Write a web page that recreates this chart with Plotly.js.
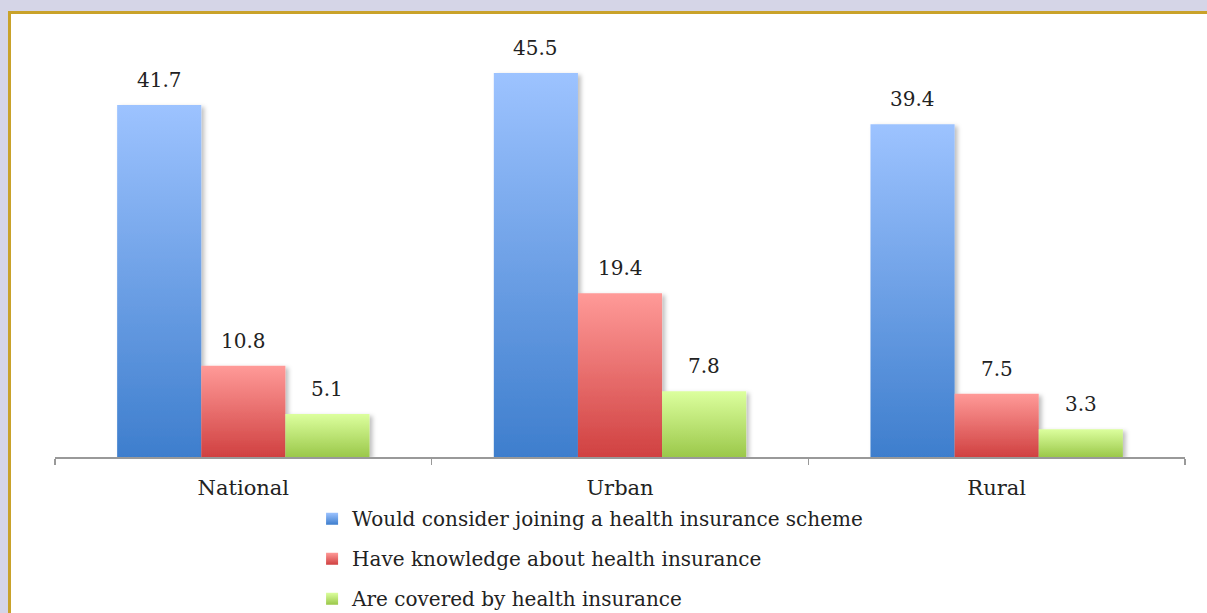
<!DOCTYPE html>
<html>
<head>
<meta charset="utf-8">
<script src="https://cdn.plot.ly/plotly-3.0.1.min.js"></script>
<style>
  html, body { margin: 0; padding: 0; width: 1207px; height: 613px; overflow: hidden; background: #d5d5e7; }
  #frame { position: absolute; left: 8px; top: 11px; width: 1220px; height: 640px; background: #ffffff;
           border-left: 3px solid #c9a22a; border-top: 3px solid #c9a22a; }
  #chart { position: absolute; left: 0; top: 0; width: 1207px; height: 613px; }
</style>
</head>
<body>
<div id="frame"></div>
<div id="chart"></div>
<script>
const categories = ["National", "Urban", "Rural"];
const seriesNames = [
  "Would consider joining a health insurance scheme",
  "Have knowledge about health insurance",
  "Are covered by health insurance"
];
const considerJoining = [41.7, 45.5, 39.4];
const haveKnowledge = [10.8, 19.4, 7.5];
const areCovered = [5.1, 7.8, 3.3];
const seriesValues = [considerJoining, haveKnowledge, areCovered];

const gradients = [
  ["#9dc3ff", "#3e7ecd"],
  ["#ff9a98", "#d04141"],
  ["#dcff9e", "#9bc84a"]
];
const FONT = "DejaVu Serif";
const bargap = 0.33;

const traces = seriesValues.map((vals, i) => ({
  type: "bar",
  name: seriesNames[i],
  x: categories,
  y: vals,
  legendgroup: "g" + i,
  marker: { color: gradients[i][1], line: { width: 0 } },
  hoverinfo: "skip"
}));

const barW = (1 - bargap) / seriesValues.length;
const annotations = [];
seriesValues.forEach((vals, i) => {
  vals.forEach((v, c) => {
    annotations.push({
      xref: "x", yref: "y",
      x: c + (i - (seriesValues.length - 1) / 2) * barW,
      y: v,
      text: v.toFixed(1),
      showarrow: false,
      yanchor: "bottom",
      yshift: 11,
      font: { family: FONT, size: 20, color: "#222" }
    });
  });
});

const layout = {
  width: 1207, height: 613,
  paper_bgcolor: "rgba(0,0,0,0)",
  plot_bgcolor: "rgba(0,0,0,0)",
  margin: { l: 55, r: 22, t: 18, b: 156, autoexpand: false },
  barmode: "group",
  bargap: bargap,
  bargroupgap: 0,
  font: { family: FONT, size: 20, color: "#222" },
  xaxis: {
    type: "category",
    showline: true, linecolor: "#999", linewidth: 1.5,
    ticks: "outside", tickson: "boundaries", ticklen: 6, tickcolor: "#999", tickwidth: 1.5,
    ticklabelstandoff: 11,
    tickfont: { family: FONT, size: 21, color: "#222" },
    showgrid: false, zeroline: false
  },
  yaxis: {
    range: [0, 52],
    visible: false, showgrid: false, zeroline: false
  },
  showlegend: true,
  legend: {
    orientation: "v",
    x: 0.2275, xanchor: "left",
    y: -0.096, yanchor: "top",
    traceorder: "grouped",
    tracegroupgap: 11,
    itemwidth: 30,
    font: { family: FONT, size: 20, color: "#222" },
    bgcolor: "rgba(0,0,0,0)"
  },
  annotations: annotations
};

Plotly.newPlot("chart", traces, layout, { displayModeBar: false, staticPlot: true }).then(gd => {
  const svg = gd.querySelector("svg.main-svg");
  const NS = "http://www.w3.org/2000/svg";
  let defs = svg.querySelector("defs");
  if (!defs) { defs = document.createElementNS(NS, "defs"); svg.insertBefore(defs, svg.firstChild); }
  gradients.forEach((g, i) => {
    const lg = document.createElementNS(NS, "linearGradient");
    lg.setAttribute("id", "barGrad" + i);
    lg.setAttribute("x1", "0"); lg.setAttribute("y1", "0");
    lg.setAttribute("x2", "0"); lg.setAttribute("y2", "1");
    [[0, g[0]], [1, g[1]]].forEach(([o, c]) => {
      const s = document.createElementNS(NS, "stop");
      s.setAttribute("offset", o); s.setAttribute("stop-color", c);
      lg.appendChild(s);
    });
    defs.appendChild(lg);
  });
  const f = document.createElementNS(NS, "filter");
  f.setAttribute("id", "barShadow");
  f.setAttribute("x", "-20%"); f.setAttribute("y", "-5%");
  f.setAttribute("width", "150%"); f.setAttribute("height", "115%");
  const ds = document.createElementNS(NS, "feDropShadow");
  ds.setAttribute("dx", "3"); ds.setAttribute("dy", "2");
  ds.setAttribute("stdDeviation", "2"); ds.setAttribute("flood-color", "#000");
  ds.setAttribute("flood-opacity", "0.25");
  f.appendChild(ds);
  defs.appendChild(f);

  gd.querySelectorAll(".barlayer .trace.bars").forEach((tr, i) => {
    tr.querySelectorAll(".point path").forEach(p => {
      p.style.fill = "url(#barGrad" + i + ")";
      p.setAttribute("filter", "url(#barShadow)");
    });
  });
  gd.querySelectorAll(".legend .traces").forEach((tr, i) => {
    tr.querySelectorAll(".legendpoints path").forEach(p => {
      p.style.fill = "url(#barGrad" + i + ")";
    });
  });
});
</script>
</body>
</html>
